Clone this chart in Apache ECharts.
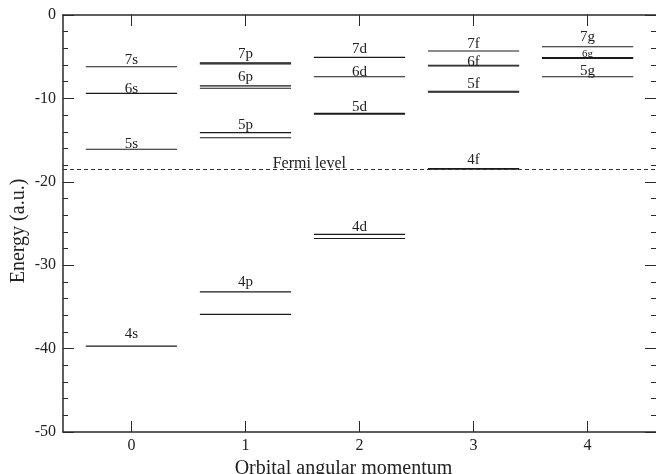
<!DOCTYPE html>
<html><head><meta charset="utf-8">
<script src="https://cdn.jsdelivr.net/npm/echarts@6/dist/echarts.min.js"></script>
<style>html,body{margin:0;padding:0;background:#fff}#c{width:656px;height:474px}</style>
</head><body><div id="c"></div>
<script>
// x ticks: orbital angular momentum l
const xTicks = [0, 1, 2, 3, 4];
// energy level lines: l and energy (a.u.)
const lineL = [0, 0, 0, 0,
  1, 1, 1, 1, 1, 1, 1, 1,
  2, 2, 2, 2, 2, 2,
  3, 3, 3, 3, 3, 3, 3,
  4, 4, 4, 4];
const lineE = [-39.7, -16.1, -9.4, -6.2,
  -35.9, -33.2, -14.72, -14.1, -8.78, -8.5, -5.86, -5.74,
  -26.8, -26.3, -11.9, -11.8, -7.4, -5.08,
  -18.5, -18.4, -9.25, -9.15, -6.12, -6.02, -4.32,
  -7.4, -5.2, -5.1, -3.8];
// level labels: text, l, energy at the label's baseline
const labelText = ['4s', '5s', '6s', '7s', '4p', '5p', '6p', '7p', '4d', '5d', '6d', '7d', '4f', '5f', '6f', '7f', '5g', '6g', '7g'];
const labelL = [0, 0, 0, 0, 1, 1, 1, 1, 2, 2, 2, 2, 3, 3, 3, 3, 4, 4, 4];
const labelE = [-38.6, -15.8, -9.3, -5.8, -32.4, -13.5, -7.8, -5.0, -25.8, -11.4, -7.2, -4.4, -17.8, -8.6, -6.0, -3.8, -7.08, -4.92, -3.0];
// Fermi level
const fermiE = -18.48;
const fermiLabel = 'Fermi level';
const fermiLabelX = 1.56;
const fermiLabelE = -18.2;

const FONT = '"Liberation Serif", "DejaVu Serif", serif';
const AX = '#2a2a2a';

const chart = echarts.init(document.getElementById('c'), null, {renderer: 'canvas'});

const axisCommonX = {
  type: 'value', min: -0.6, max: 4.6,
  splitLine: {show: false},
  axisLine: {show: true, onZero: false, lineStyle: {color: AX, width: 1.5}},
  axisTick: {show: true, inside: true, length: 11, customValues: xTicks, lineStyle: {color: AX, width: 1}},
};
const axisCommonY = {
  type: 'value', min: -50, max: 0, interval: 10,
  splitLine: {show: false},
  axisLine: {show: true, onZero: false, lineStyle: {color: AX, width: 1.5}},
  axisTick: {show: true, inside: true, length: 11, lineStyle: {color: AX, width: 1}},
  minorTick: {show: true, splitNumber: 5, length: 5, lineStyle: {color: AX, width: 1}},
};

// text placed so that its baseline sits at the anchor
const baselineText = (x, y, t, size) => ({
  type: 'text', x: x, y: y + 0.3 * size,
  style: {text: t, fontSize: size, fontFamily: FONT, fill: '#222', align: 'center', verticalAlign: 'bottom'}
});

chart.setOption({
  animation: false,
  backgroundColor: '#fff',
  grid: {left: 63, right: 0, top: 15, bottom: 42, containLabel: false, outerBoundsMode: 'none'},
  xAxis: [
    Object.assign({}, axisCommonX, {
      position: 'bottom',
      axisLabel: {show: true, customValues: xTicks, margin: 6, fontSize: 16, fontFamily: FONT, color: '#222'},
      name: 'Orbital angular momentum', nameLocation: 'middle', nameGap: 27, nameMoveOverlap: false,
      nameTextStyle: {fontSize: 20, fontFamily: FONT, color: '#222', padding: [0, 32, 0, 0]}
    }),
    Object.assign({}, axisCommonX, {position: 'top', axisLabel: {show: false}})
  ],
  yAxis: [
    Object.assign({}, axisCommonY, {
      position: 'left',
      axisLabel: {show: true, margin: 7, fontSize: 16, fontFamily: FONT, color: '#222'},
      name: 'Energy (a.u.)', nameLocation: 'middle', nameGap: 34, nameRotate: 90, nameMoveOverlap: false,
      nameTextStyle: {fontSize: 20, fontFamily: FONT, color: '#222', padding: [0, 15, 0, 0]}
    }),
    Object.assign({}, axisCommonY, {position: 'right', axisLabel: {show: false},
      axisLine: {show: false, onZero: false}})
  ],
  series: [
    {
      type: 'custom',
      xAxisIndex: 0, yAxisIndex: 0,
      data: lineL.map((l, i) => [l, lineE[i]]),
      renderItem: function (params, api) {
        const l = api.value(0), e = api.value(1);
        const p1 = api.coord([l - 0.4, e]);
        const p2 = api.coord([l + 0.4, e]);
        return {type: 'line', shape: {x1: p1[0], y1: p1[1], x2: p2[0], y2: p2[1]},
          style: {stroke: '#1a1a1a', lineWidth: 1.1}};
      },
      markLine: {
        silent: true, symbol: 'none', label: {show: false},
        lineStyle: {color: '#333', type: [4, 3], width: 1},
        data: [{yAxis: fermiE}]
      },
      z: 3
    },
    {
      type: 'custom',
      xAxisIndex: 0, yAxisIndex: 0,
      data: labelText.map((t, i) => [labelL[i], labelE[i]]),
      renderItem: function (params, api) {
        const t = labelText[params.dataIndex];
        const p = api.coord([api.value(0), api.value(1)]);
        return baselineText(p[0], p[1], t, t === '6g' ? 11 : 15);
      },
      z: 4
    },
    {
      type: 'custom',
      xAxisIndex: 0, yAxisIndex: 0,
      data: [[fermiLabelX, fermiLabelE]],
      renderItem: function (params, api) {
        const p = api.coord([api.value(0), api.value(1)]);
        return baselineText(p[0], p[1], fermiLabel, 16);
      },
      z: 4
    }
  ]
});
</script>
</body></html>
